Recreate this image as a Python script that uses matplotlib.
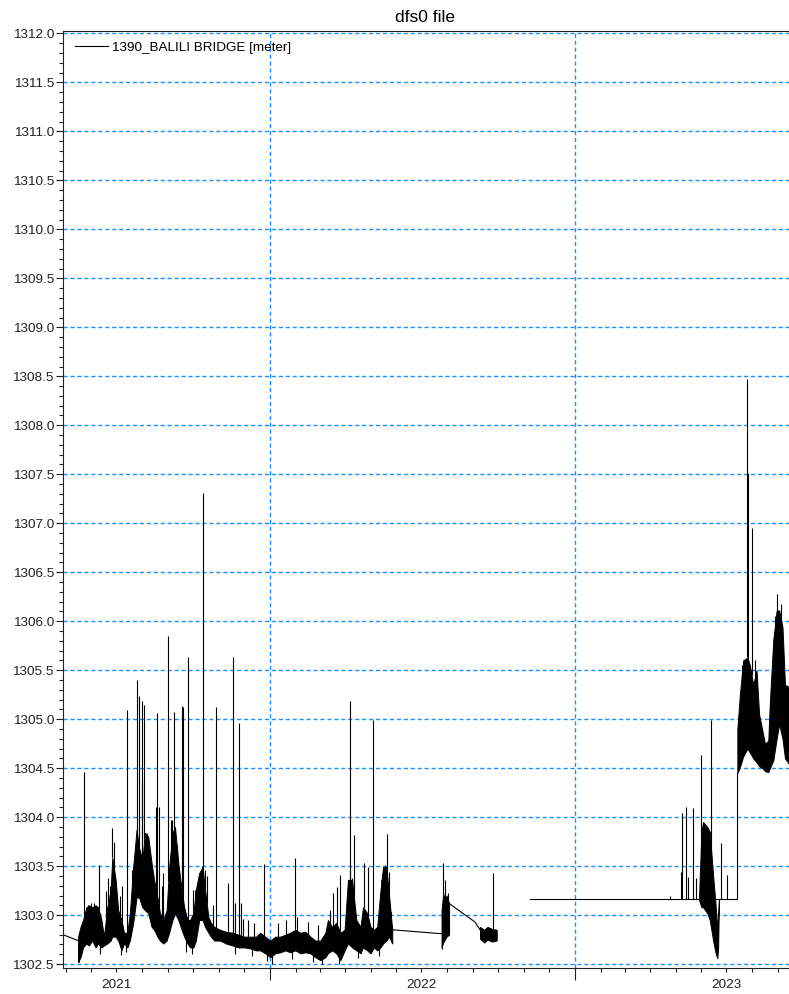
import numpy as np
import pandas as pd
import matplotlib
matplotlib.use("Agg")
import matplotlib.pyplot as plt
import matplotlib.dates as mdates
from matplotlib.ticker import MultipleLocator, FuncFormatter, NullFormatter

plt.rcParams["font.family"] = ["Liberation Sans", "DejaVu Sans"]

STATION = "1390_BALILI BRIDGE [meter]"
GRID_BLUE = "#1e8fff"

# Daily water level envelope (min / max) for the 2021-22 record
wet_dates = [
    "2021-05-16", "2021-05-19", "2021-05-22", "2021-05-26", "2021-05-29", "2021-06-02",
    "2021-06-06", "2021-06-09", "2021-06-13", "2021-06-16", "2021-06-20", "2021-06-24",
    "2021-06-26", "2021-06-30", "2021-07-03", "2021-07-07", "2021-07-10", "2021-07-14",
    "2021-07-17", "2021-07-21", "2021-07-25", "2021-07-28", "2021-08-01", "2021-08-04",
    "2021-08-08", "2021-08-12", "2021-08-15", "2021-08-19", "2021-08-22", "2021-08-26",
    "2021-08-30", "2021-09-02", "2021-09-06", "2021-09-09", "2021-09-13", "2021-09-17",
    "2021-09-20", "2021-09-24", "2021-09-27", "2021-10-01", "2021-10-04", "2021-10-08",
    "2021-10-12", "2021-10-15", "2021-10-19", "2021-10-22", "2021-10-26", "2021-11-02",
    "2021-11-09", "2021-11-17", "2021-11-24", "2021-12-01", "2021-12-08", "2021-12-15",
    "2021-12-20", "2021-12-26", "2022-01-01", "2022-01-07", "2022-01-13", "2022-01-19",
    "2022-01-25", "2022-01-31", "2022-02-06", "2022-02-12", "2022-02-18", "2022-02-24",
    "2022-03-02", "2022-03-08", "2022-03-11", "2022-03-16", "2022-03-21", "2022-03-26",
    "2022-03-31", "2022-04-04", "2022-04-09", "2022-04-14", "2022-04-19", "2022-04-22",
    "2022-04-27", "2022-05-01", "2022-05-05", "2022-05-09", "2022-05-13", "2022-05-16",
    "2022-05-20", "2022-05-23", "2022-05-27",
]
wet_low = [
    1302.52, 1302.57, 1302.67, 1302.71, 1302.69, 1302.74, 1302.67, 1302.71, 1302.67, 1302.69,
    1302.71, 1302.74, 1302.78, 1302.78, 1302.74, 1302.64, 1302.71, 1302.67, 1302.74, 1302.92,
    1303.18, 1303.18, 1303.08, 1303.05, 1303.02, 1302.88, 1302.85, 1302.78, 1302.74, 1302.71,
    1302.74, 1302.82, 1302.95, 1303.02, 1302.95, 1302.85, 1302.78, 1302.71, 1302.67, 1302.67,
    1302.74, 1302.95, 1302.95, 1302.88, 1302.82, 1302.78, 1302.74, 1302.74, 1302.71, 1302.69,
    1302.67, 1302.67, 1302.66, 1302.64, 1302.64, 1302.61, 1302.57, 1302.61, 1302.62, 1302.64,
    1302.62, 1302.64, 1302.61, 1302.62, 1302.61, 1302.57, 1302.54, 1302.57, 1302.61, 1302.64,
    1302.61, 1302.54, 1302.64, 1302.71, 1302.67, 1302.64, 1302.61, 1302.67, 1302.64, 1302.61,
    1302.67, 1302.64, 1302.67, 1302.71, 1302.74, 1302.78, 1302.71,
]
wet_high = [
    1302.78, 1302.88, 1302.95, 1303.08, 1303.10, 1303.08, 1303.10, 1303.08, 1302.95, 1302.78,
    1303.08, 1303.26, 1303.59, 1303.36, 1303.05, 1302.95, 1302.82, 1302.82, 1303.02, 1303.49,
    1303.87, 1303.69, 1303.56, 1303.84, 1303.80, 1303.53, 1303.36, 1303.18, 1303.02, 1302.95,
    1303.05, 1303.49, 1303.84, 1303.90, 1303.53, 1303.26, 1303.08, 1302.95, 1302.95, 1303.02,
    1303.26, 1303.43, 1303.49, 1303.26, 1302.98, 1302.92, 1302.88, 1302.85, 1302.83, 1302.82,
    1302.80, 1302.78, 1302.78, 1302.78, 1302.82, 1302.78, 1302.74, 1302.78, 1302.78, 1302.80,
    1302.82, 1302.85, 1302.82, 1302.83, 1302.78, 1302.74, 1302.74, 1302.82, 1302.95, 1302.88,
    1302.92, 1302.82, 1302.85, 1303.36, 1303.36, 1302.95, 1302.88, 1303.08, 1303.02, 1302.88,
    1302.85, 1302.88, 1303.26, 1303.49, 1303.49, 1303.22, 1302.85,
]

# Short bursts of record in mid 2022
jul22_dates = ["2022-07-25", "2022-07-27", "2022-07-29", "2022-07-31", "2022-08-03"]
jul22_low = [1302.67, 1302.72, 1302.75, 1302.78, 1302.80]
jul22_high = [1303.05, 1303.22, 1303.15, 1303.20, 1303.12]

sep22_dates = ["2022-09-09", "2022-09-14", "2022-09-18", "2022-09-23", "2022-09-29"]
sep22_low = [1302.76, 1302.72, 1302.75, 1302.73, 1302.74]
sep22_high = [1302.88, 1302.85, 1302.88, 1302.86, 1302.85]

# June 2023 drawdown
jun23_dates = ["2023-05-29", "2023-06-01", "2023-06-03", "2023-06-08", "2023-06-11",
               "2023-06-15", "2023-06-18", "2023-06-20", "2023-06-21", "2023-06-22"]
jun23_low = [1303.16, 1303.08, 1303.08, 1303.02, 1302.95, 1302.74, 1302.61, 1302.56, 1302.67, 1303.16]
jun23_high = [1303.16, 1303.85, 1303.95, 1303.90, 1303.85, 1303.40, 1303.10, 1302.85, 1303.00, 1303.16]

# Raised level after the July 2023 shift
aug23_dates = ["2023-07-14", "2023-07-17", "2023-07-21", "2023-07-26", "2023-07-29", "2023-08-02",
               "2023-08-06", "2023-08-09", "2023-08-13", "2023-08-16", "2023-08-20", "2023-08-22",
               "2023-08-26", "2023-08-30", "2023-09-02", "2023-09-06", "2023-09-09", "2023-09-14",
               "2023-09-21"]
aug23_low = [1304.45, 1304.51, 1304.62, 1304.70, 1304.66, 1304.60, 1304.56, 1304.52, 1304.50,
             1304.47, 1304.46, 1304.50, 1304.58, 1304.80, 1304.95, 1304.80, 1304.60, 1304.54, 1304.52]
aug23_high = [1304.90, 1305.25, 1305.60, 1305.63, 1305.55, 1305.35, 1305.50, 1305.05, 1304.88,
              1304.75, 1304.78, 1305.19, 1305.81, 1306.11, 1306.11, 1305.94, 1305.35, 1305.33, 1305.10]

# Straight segments across gaps in the record
gap_segments = [
    (["2021-04-28", "2021-05-16"], [1302.80, 1302.74]),
    (["2022-05-27", "2022-07-25"], [1302.85, 1302.81]),
    (["2022-08-03", "2022-08-24", "2022-09-03", "2022-09-09"], [1303.12, 1302.99, 1302.93, 1302.85]),
    (["2022-11-08", "2023-07-14", "2023-07-14"], [1303.16, 1303.16, 1304.45]),
]

# Flood peaks
spike_dates = [
    "2021-05-23", "2021-06-10", "2021-06-21", "2021-06-26", "2021-07-14", "2021-07-21",
    "2021-07-26", "2021-07-28", "2021-07-31", "2021-08-03", "2021-08-19", "2021-08-21",
    "2021-08-26", "2021-09-01", "2021-09-05", "2021-09-08", "2021-09-11", "2021-09-17",
    "2021-09-19", "2021-09-24", "2021-10-01", "2021-10-09", "2021-10-13", "2021-10-15",
    "2021-10-28", "2021-11-12", "2021-11-17", "2021-11-20", "2021-11-25", "2021-12-25",
    "2022-01-31", "2022-02-15", "2022-03-17", "2022-03-22", "2022-03-25", "2022-04-07",
    "2022-04-11", "2022-04-23", "2022-04-28", "2022-05-04", "2022-05-18", "2022-05-21",
    "2022-05-23", "2022-07-27", "2022-07-29", "2022-08-02", "2022-09-24", "2023-04-24",
    "2023-05-07", "2023-05-09", "2023-05-13", "2023-05-16", "2023-05-22", "2023-05-26",
    "2023-05-31", "2023-06-13", "2023-06-24", "2023-07-02", "2023-07-26", "2023-07-27",
    "2023-07-31", "2023-08-31", "2023-09-04",
]
spike_peaks = [
    1304.46, 1303.51, 1303.38, 1303.89, 1305.09, 1303.46,
    1305.40, 1305.24, 1305.19, 1305.14, 1305.06, 1304.10,
    1303.43, 1305.85, 1303.97, 1305.07, 1303.49, 1305.13,
    1305.12, 1305.63, 1303.26, 1303.33, 1307.31, 1303.46,
    1305.12, 1303.33, 1305.63, 1303.12, 1304.96, 1303.52,
    1303.58, 1302.93, 1303.23, 1303.29, 1303.41, 1305.19,
    1303.82, 1303.53, 1303.49, 1304.99, 1303.51, 1303.83,
    1303.44, 1303.53, 1303.36, 1303.23, 1303.43, 1303.19,
    1303.44, 1304.04, 1304.10, 1303.39, 1304.09, 1303.38,
    1304.63, 1304.99, 1303.74, 1303.41, 1308.47, 1307.51,
    1306.95, 1306.28, 1306.18,
]

# Smaller rises and drops around the daily range
rise_dates = [
    "2021-05-28", "2021-06-01", "2021-06-04", "2021-06-18", "2021-06-23", "2021-06-28",
    "2021-07-05", "2021-07-08", "2021-07-19", "2021-08-01", "2021-08-06", "2021-08-17",
    "2021-08-24", "2021-09-04", "2021-09-12", "2021-10-03", "2021-10-11", "2021-10-17",
    "2021-10-24", "2021-11-27", "2021-11-30", "2021-12-05", "2021-12-12", "2022-01-10",
    "2022-01-20", "2022-02-02", "2022-02-27", "2022-03-13", "2022-04-06", "2022-04-09",
    "2022-05-14", "2022-05-25", "2023-07-19", "2023-08-04", "2023-08-28",
]
rise_tops = [
    1303.10, 1303.12, 1303.12, 1303.25, 1303.30, 1303.75,
    1303.20, 1303.30, 1303.46, 1304.38, 1303.84, 1304.10,
    1303.30, 1303.97, 1303.49, 1303.26, 1303.50, 1303.40,
    1303.10, 1303.12, 1302.96, 1302.95, 1302.92, 1302.92,
    1302.95, 1302.98, 1302.90, 1303.05, 1303.51, 1303.38,
    1303.36, 1303.00, 1305.55, 1305.60, 1306.05,
]
drop_dates = [
    "2021-05-17", "2021-06-11", "2021-07-07", "2021-07-12", "2021-09-22", "2021-09-29",
    "2021-11-20", "2021-12-10", "2021-12-28", "2022-01-03", "2022-01-27", "2022-02-21",
    "2022-03-04", "2022-03-24", "2022-04-16", "2022-05-11", "2022-07-25",
]
drop_bottoms = [
    1302.52, 1302.60, 1302.59, 1302.62, 1302.62, 1302.60,
    1302.60, 1302.58, 1302.53, 1302.50, 1302.55, 1302.52,
    1302.50, 1302.50, 1302.56, 1302.58, 1302.65,
]

bands = [
    (wet_dates, wet_low, wet_high),
    (jul22_dates, jul22_low, jul22_high),
    (sep22_dates, sep22_low, sep22_high),
    (jun23_dates, jun23_low, jun23_high),
    (aug23_dates, aug23_low, aug23_high),
]


def edge_lookup(which):
    """Return (time, level) arrays of the upper or lower band edge, sorted by time."""
    t, v = [], []
    for d, lo, hi in bands:
        t += list(mdates.date2num(pd.to_datetime(d)))
        v += hi if which == "high" else lo
    for d, lv in gap_segments[3:]:
        t += list(mdates.date2num(pd.to_datetime(d[:2])))
        v += lv[:2]
    order = np.argsort(t)
    return np.array(t)[order], np.array(v)[order]


def stems(ax, dates, ends, edge):
    """Draw thin vertical excursions from the band edge to the given levels."""
    t_edge, v_edge = edge
    t = mdates.date2num(pd.to_datetime(dates))
    start = np.interp(t, t_edge, v_edge)
    ax.vlines(pd.to_datetime(dates), start, ends, colors="black", lw=0.8)


fig = plt.figure(figsize=(7.89, 9.94), dpi=100)
ax = fig.add_axes([63 / 789, 26 / 994, 727 / 789, 937 / 994])

for d, lo, hi in bands:
    ax.fill_between(pd.to_datetime(d), lo, hi, color="black", lw=0.7)

handle = None
for d, v in gap_segments:
    (handle,) = ax.plot(pd.to_datetime(d), v, color="black", lw=0.8)

upper = edge_lookup("high")
lower = edge_lookup("low")
stems(ax, spike_dates, spike_peaks, upper)
stems(ax, rise_dates, rise_tops, upper)
stems(ax, drop_dates, drop_bottoms, lower)

ax.set_xlim(pd.Timestamp("2021-04-28"), pd.Timestamp("2023-09-15"))
ax.set_ylim(1302.46, 1312.025)

ax.yaxis.set_major_locator(MultipleLocator(0.5))
ax.yaxis.set_minor_locator(MultipleLocator(0.1))
ax.yaxis.set_major_formatter(FuncFormatter(lambda v, p: "%.1f" % v))

ax.xaxis.set_major_locator(mdates.YearLocator())
ax.xaxis.set_minor_locator(mdates.MonthLocator())
ax.xaxis.set_major_formatter(NullFormatter())


def year_label(x, pos):
    d = mdates.num2date(x)
    return str(d.year) if d.month == 7 else ""


ax.xaxis.set_minor_formatter(FuncFormatter(year_label))

ax.tick_params(axis="y", which="major", direction="out", length=5, width=0.8,
               labelsize=9.7, pad=1.5, colors="#222222")
ax.tick_params(axis="y", which="minor", direction="out", length=2.8, width=0.8, colors="#222222")
ax.tick_params(axis="x", which="major", direction="out", length=8.5, width=0.8, colors="#222222")
ax.tick_params(axis="x", which="minor", direction="out", length=3.2, width=0.8,
               labelsize=9.7, pad=5, colors="#222222")

ax.grid(True, which="major", color=GRID_BLUE, lw=1.0, ls=(0, (3, 2)))
ax.set_axisbelow(True)

for side in ("left", "bottom", "top"):
    ax.spines[side].set_color("#222222")
    ax.spines[side].set_linewidth(0.8)
ax.spines["right"].set_visible(False)

ax.legend([handle], [STATION], loc="upper left", frameon=False, fontsize=9.7,
          handlelength=2.45, handletextpad=0.3, borderaxespad=0.0,
          bbox_to_anchor=(7 / 727, 1 - 5 / 937))

fig.text(425 / 789, 1 - 17 / 994, "dfs0 file", ha="center", va="center", fontsize=12.5)

fig.savefig("out.png", dpi=100)
